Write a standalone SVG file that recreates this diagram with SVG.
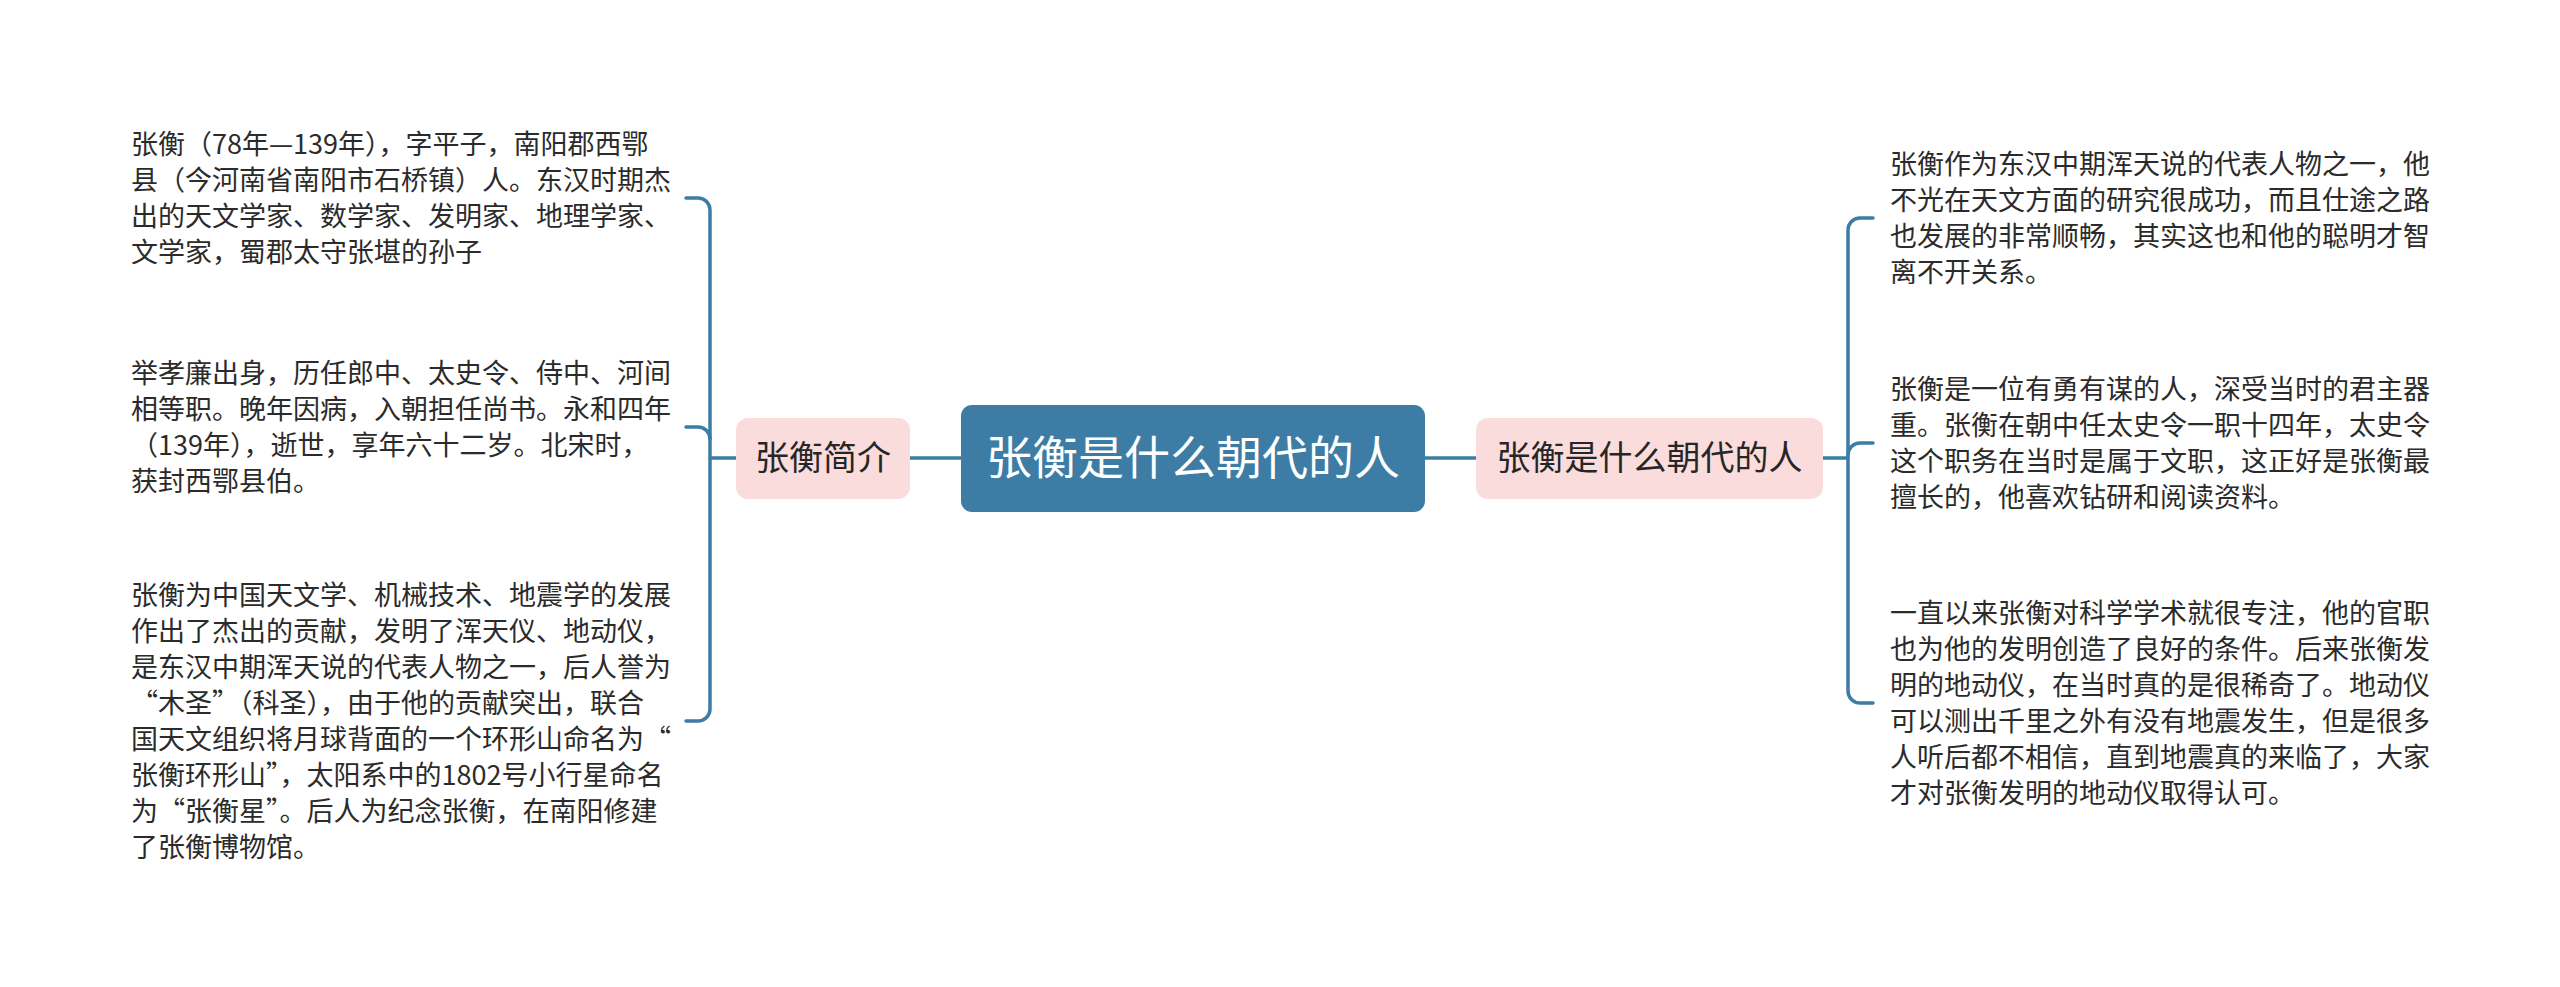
<svg xmlns="http://www.w3.org/2000/svg" width="2560" height="987" viewBox="0 0 2560 987">
<style>
.leaf{font-family:"Noto Sans CJK SC","Noto Sans",sans-serif;font-size:27px;fill:#2b2b2b}
.sub{font-family:"Noto Sans CJK SC","Noto Sans",sans-serif;font-size:34px;fill:#262626;text-anchor:middle}
.main{font-family:"Noto Sans CJK SC","Noto Sans",sans-serif;font-size:46px;fill:#ffffff;text-anchor:middle}
.conn{fill:none;stroke:#3d7da5;stroke-width:3.5;stroke-linecap:round}
.pink{fill:#fadcdc}
</style>
<rect width="2560" height="987" fill="#ffffff"/>
<g id="connectors">
<path class="conn" d="M910,458 H961"/>
<path class="conn" d="M1425,458 H1476"/>
<path class="conn" d="M736,458 H710"/>
<path class="conn" d="M1823,458 H1848"/>
<path class="conn" d="M686,198 H698 A12,12 0 0 1 710,210 V709 A12,12 0 0 1 698,721 H686"/>
<path class="conn" d="M686,427 H698 A12,12 0 0 1 710,439"/>
<path class="conn" d="M1873,218 H1860 A12,12 0 0 0 1848,230 V691 A12,12 0 0 0 1860,703 H1873"/>
<path class="conn" d="M1873,443 H1860 A12,12 0 0 0 1848,455"/>
</g>
<g id="center">
<rect x="961" y="405" width="464" height="107" rx="11" fill="#3d7da5"/>
<text class="main" x="1193" y="474">张衡是什么朝代的人</text>
</g>
<g id="left-node">
<rect class="pink" x="736" y="418" width="174" height="81" rx="12"/>
<text class="sub" x="823" y="470">张衡简介</text>
</g>
<g id="right-node">
<rect class="pink" x="1476" y="418" width="347" height="81" rx="12"/>
<text class="sub" x="1649.5" y="470">张衡是什么朝代的人</text>
</g>
<g id="left-text-1">
<text class="leaf" x="131" y="153.5">张衡（78年—139年），字平子，南阳郡西鄂</text>
<text class="leaf" x="131" y="189.5">县（今河南省南阳市石桥镇）人。东汉时期杰</text>
<text class="leaf" x="131" y="225.5">出的天文学家、数学家、发明家、地理学家、</text>
<text class="leaf" x="131" y="261.5">文学家，蜀郡太守张堪的孙子</text>
</g>
<g id="left-text-2">
<text class="leaf" x="131" y="382.5">举孝廉出身，历任郎中、太史令、侍中、河间</text>
<text class="leaf" x="131" y="418.5">相等职。晚年因病，入朝担任尚书。永和四年</text>
<text class="leaf" x="131" y="454.5">（139年），逝世，享年六十二岁。北宋时，</text>
<text class="leaf" x="131" y="490.5">获封西鄂县伯。</text>
</g>
<g id="left-text-3">
<text class="leaf" x="131" y="604.5">张衡为中国天文学、机械技术、地震学的发展</text>
<text class="leaf" x="131" y="640.5">作出了杰出的贡献，发明了浑天仪、地动仪，</text>
<text class="leaf" x="131" y="676.5">是东汉中期浑天说的代表人物之一，后人誉为</text>
<text class="leaf" x="131" y="712.5">“木圣”（科圣），由于他的贡献突出，联合</text>
<text class="leaf" x="131" y="748.5">国天文组织将月球背面的一个环形山命名为“</text>
<text class="leaf" x="131" y="784.5">张衡环形山”，太阳系中的1802号小行星命名</text>
<text class="leaf" x="131" y="820.5">为“张衡星”。后人为纪念张衡，在南阳修建</text>
<text class="leaf" x="131" y="856.5">了张衡博物馆。</text>
</g>
<g id="right-text-1">
<text class="leaf" x="1890" y="173.5">张衡作为东汉中期浑天说的代表人物之一，他</text>
<text class="leaf" x="1890" y="209.5">不光在天文方面的研究很成功，而且仕途之路</text>
<text class="leaf" x="1890" y="245.5">也发展的非常顺畅，其实这也和他的聪明才智</text>
<text class="leaf" x="1890" y="281.5">离不开关系。</text>
</g>
<g id="right-text-2">
<text class="leaf" x="1890" y="398.5">张衡是一位有勇有谋的人，深受当时的君主器</text>
<text class="leaf" x="1890" y="434.5">重。张衡在朝中任太史令一职十四年，太史令</text>
<text class="leaf" x="1890" y="470.5">这个职务在当时是属于文职，这正好是张衡最</text>
<text class="leaf" x="1890" y="506.5">擅长的，他喜欢钻研和阅读资料。</text>
</g>
<g id="right-text-3">
<text class="leaf" x="1890" y="622.5">一直以来张衡对科学学术就很专注，他的官职</text>
<text class="leaf" x="1890" y="658.5">也为他的发明创造了良好的条件。后来张衡发</text>
<text class="leaf" x="1890" y="694.5">明的地动仪，在当时真的是很稀奇了。地动仪</text>
<text class="leaf" x="1890" y="730.5">可以测出千里之外有没有地震发生，但是很多</text>
<text class="leaf" x="1890" y="766.5">人听后都不相信，直到地震真的来临了，大家</text>
<text class="leaf" x="1890" y="802.5">才对张衡发明的地动仪取得认可。</text>
</g>
</svg>
